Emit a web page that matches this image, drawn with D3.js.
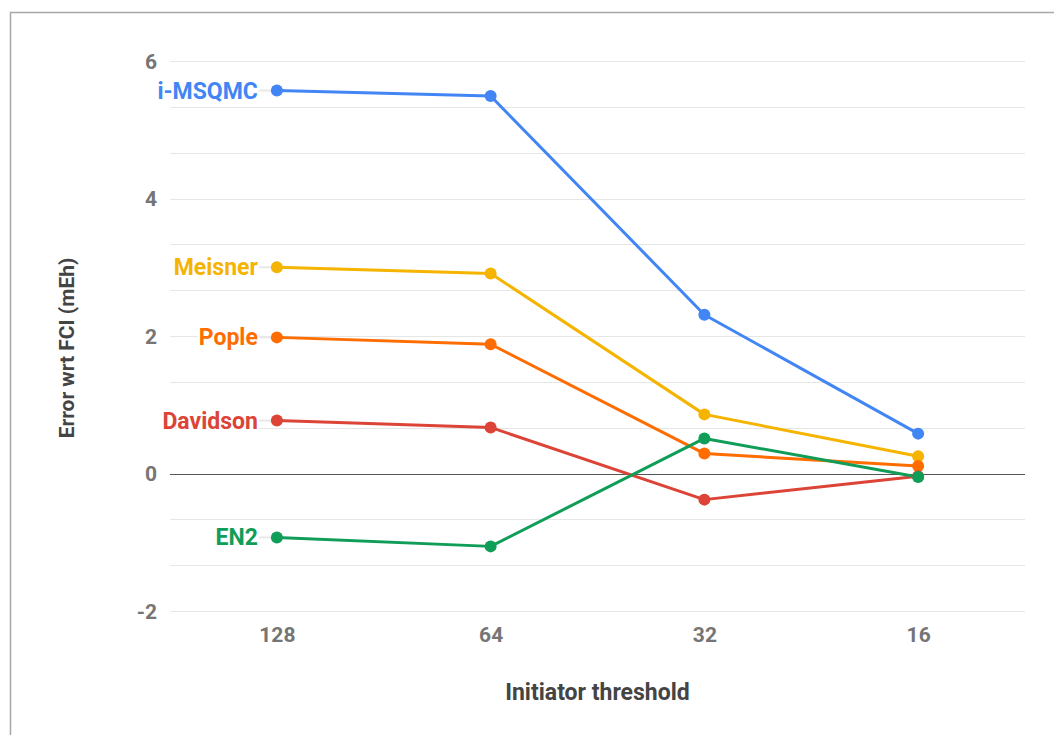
<!DOCTYPE html>
<html>
<head>
<meta charset="utf-8">
<script src="https://cdn.jsdelivr.net/npm/d3@7"></script>
<style>
  html, body { margin: 0; padding: 0; background: #fff; }
  svg { display: block; font-family: Roboto, "Noto Sans", sans-serif; }
</style>
</head>
<body>
<svg id="chart" width="1054" height="735"></svg>
<script>
const categories = ["128", "64", "32", "16"];
const seriesNames = ["i-MSQMC", "Meisner", "Pople", "Davidson", "EN2"];
const seriesColors = ["#4285F4", "#F4B400", "#FF6D01", "#DB4437", "#0F9D58"];
const iMSQMC   = [5.57, 5.49, 2.31, 0.58];
const meisner  = [3.00, 2.91, 0.86, 0.25];
const pople    = [1.98, 1.88, 0.29, 0.11];
const davidson = [0.77, 0.67, -0.38, -0.04];
const en2      = [-0.93, -1.06, 0.51, -0.05];
const yTickLabels = [-2, 0, 2, 4, 6];
const xTitle = "Initiator threshold";
const yTitle = "Error wrt FCI (mEh)";

const seriesValues = [iMSQMC, meisner, pople, davidson, en2];
const series = seriesNames.map((n, i) => ({ name: n, color: seriesColors[i], values: seriesValues[i] }));

const svg = d3.select("#chart");
const plot = { left: 170, right: 1025, top: 61, bottom: 611 };

// outer frame
svg.append("rect").attr("x", 10.5).attr("y", 12.5).attr("width", 1100).attr("height", 800)
  .attr("fill", "none").attr("stroke", "#a8a8a8").attr("stroke-width", 1.5);

const x = d3.scalePoint().domain(categories).range([plot.left, plot.right]).padding(0.5);
const y = d3.scaleLinear().domain([-2, 6]).range([plot.bottom, plot.top]);

// gridlines (major every 2, minor every 2/3)
const gridVals = d3.range(0, 13).map(i => -2 + i * 2 / 3);
svg.append("g").selectAll("line").data(gridVals.filter(v => Math.abs(v) > 1e-6)).join("line")
  .attr("x1", plot.left).attr("x2", plot.right)
  .attr("y1", d => Math.round(y(d)) + 0.5).attr("y2", d => Math.round(y(d)) + 0.5)
  .attr("stroke", "#e6e6e6").attr("stroke-width", 1.2);

// y axis labels
const yAxis = d3.axisLeft(y).tickValues(yTickLabels).tickSize(0).tickPadding(0).tickFormat(d => String(d));
const gy = svg.append("g").attr("transform", `translate(${plot.left - 13},0)`).call(yAxis);
gy.select(".domain").remove();
gy.selectAll("text").attr("font-size", 21).attr("font-weight", "bold").attr("fill", "#757575")
  .attr("font-family", "Roboto, sans-serif").attr("dy", "0.35em");

// x axis labels
const xAxis = d3.axisBottom(x).tickSize(0).tickPadding(0);
const gx = svg.append("g").attr("transform", `translate(0,${plot.bottom + 24})`).call(xAxis);
gx.select(".domain").remove();
gx.selectAll("text").attr("font-size", 21).attr("font-weight", "bold").attr("fill", "#757575")
  .attr("font-family", "Roboto, sans-serif").attr("dy", "0.35em");

// zero baseline
svg.append("line").attr("x1", plot.left).attr("x2", plot.right)
  .attr("y1", Math.round(y(0)) + 0.5).attr("y2", Math.round(y(0)) + 0.5)
  .attr("stroke", "#555").attr("stroke-width", 1.2);

// label stubs
const firstX = x(categories[0]);
svg.append("g").selectAll("line").data(series).join("line")
  .attr("x1", firstX - 18).attr("x2", firstX)
  .attr("y1", d => y(d.values[0])).attr("y2", d => y(d.values[0]))
  .attr("stroke", "#e8e8e8").attr("stroke-width", 2);

// lines
const line = d3.line().x((d, i) => x(categories[i])).y(d => y(d));
svg.append("g").selectAll("path").data(series).join("path")
  .attr("d", d => line(d.values)).attr("fill", "none")
  .attr("stroke", d => d.color).attr("stroke-width", 3).attr("stroke-linejoin", "round");

// points
series.forEach(s => {
  svg.append("g").selectAll("circle").data(s.values).join("circle")
    .attr("cx", (d, i) => x(categories[i])).attr("cy", d => y(d)).attr("r", 6)
    .attr("fill", s.color);
});

// series labels
svg.append("g").selectAll("text").data(series).join("text")
  .attr("x", firstX - 19).attr("y", d => y(d.values[0])).attr("dy", "0.35em")
  .attr("text-anchor", "end").attr("font-size", 23).attr("font-weight", "bold")
  .attr("fill", d => d.color)
  .attr("stroke", "#fff").attr("stroke-width", 4).attr("paint-order", "stroke")
  .text(d => d.name);

// titles
svg.append("text").attr("x", (plot.left + plot.right) / 2).attr("y", 692).attr("dy", "0.35em")
  .attr("text-anchor", "middle").attr("font-size", 23).attr("font-weight", "bold").attr("fill", "#444")
  .text(xTitle);
svg.append("text").attr("transform", `translate(67,${(plot.top + plot.bottom) / 2 + 12}) rotate(-90)`)
  .attr("dy", "0.35em").attr("text-anchor", "middle").attr("font-size", 21).attr("font-weight", "bold")
  .attr("fill", "#444").text(yTitle);
</script>
</body>
</html>
